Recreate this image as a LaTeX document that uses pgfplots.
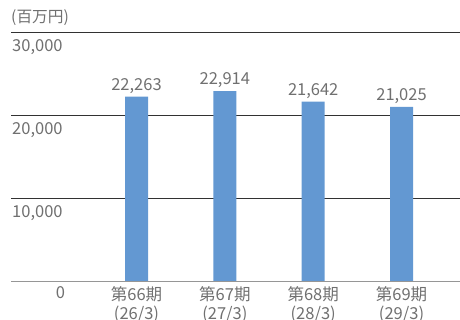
\documentclass[border=0pt]{standalone}
\usepackage{pgfplots}
\pgfplotsset{compat=1.18}
\usepackage{fontspec}
\setmainfont{Noto Sans CJK JP}
\definecolor{barblue}{RGB}{99,152,210}
\definecolor{txtgray}{RGB}{112,112,112}
\definecolor{gridc}{RGB}{50,50,50}
\definecolor{basec}{RGB}{150,150,150}
\begin{document}
\begin{tikzpicture}[x=1pt,y=1pt]
\useasboundingbox (0,0) rectangle (460,320);
\node[anchor=base west, text=txtgray, font=\fontsize{15.7}{17}\selectfont, inner sep=0pt] at (11,297) {(百万円)};
\begin{axis}[
  at={(11pt,39pt)}, anchor=south west,
  scale only axis, width=449pt, height=248.5pt,
  xmin=-1.421, xmax=3.662, ymin=0, ymax=30000,
  scaled y ticks=false,
  /pgf/number format/assume math mode=true,
  axis line style={draw=none},
  ytick={10000,20000,30000},
  yticklabels={10{,}000,20{,}000,30{,}000},
  ymajorgrids, grid style={gridc, line width=0.8pt},
  major tick length=0pt,
  yticklabel style={anchor=north west, inner sep=0pt, xshift=1pt, yshift=-7pt, text=txtgray, font=\fontsize{16.5}{18}\selectfont},
  xtick={-0.86,0,1,2,3},
  xticklabels={0,第66期\\(26/3),第67期\\(27/3),第68期\\(28/3),第69期\\(29/3)},
  xticklabel style={anchor=north, align=center, inner sep=0pt, yshift=-5pt, text=txtgray, font=\fontsize{16.5}{19.5}\selectfont},
  clip=false,
]
\draw[basec, line width=0.8pt] (axis cs:-1.421,0) -- (axis cs:3.662,0);
\addplot[ybar, bar width=23pt, fill=barblue, draw=none,
  nodes near coords={\pgfmathprintnumber[1000 sep={,}]{\pgfplotspointmeta}},
  nodes near coords style={text=txtgray, font=\fontsize{16.5}{18}\selectfont, inner sep=0pt, anchor=south, yshift=3pt},
  point meta=explicit] coordinates {
  (0,22263) [22263]
  (1,22914) [22914]
  (2,21642) [21642]
  (3,21025) [21025]
};
\end{axis}
\end{tikzpicture}
\end{document}
